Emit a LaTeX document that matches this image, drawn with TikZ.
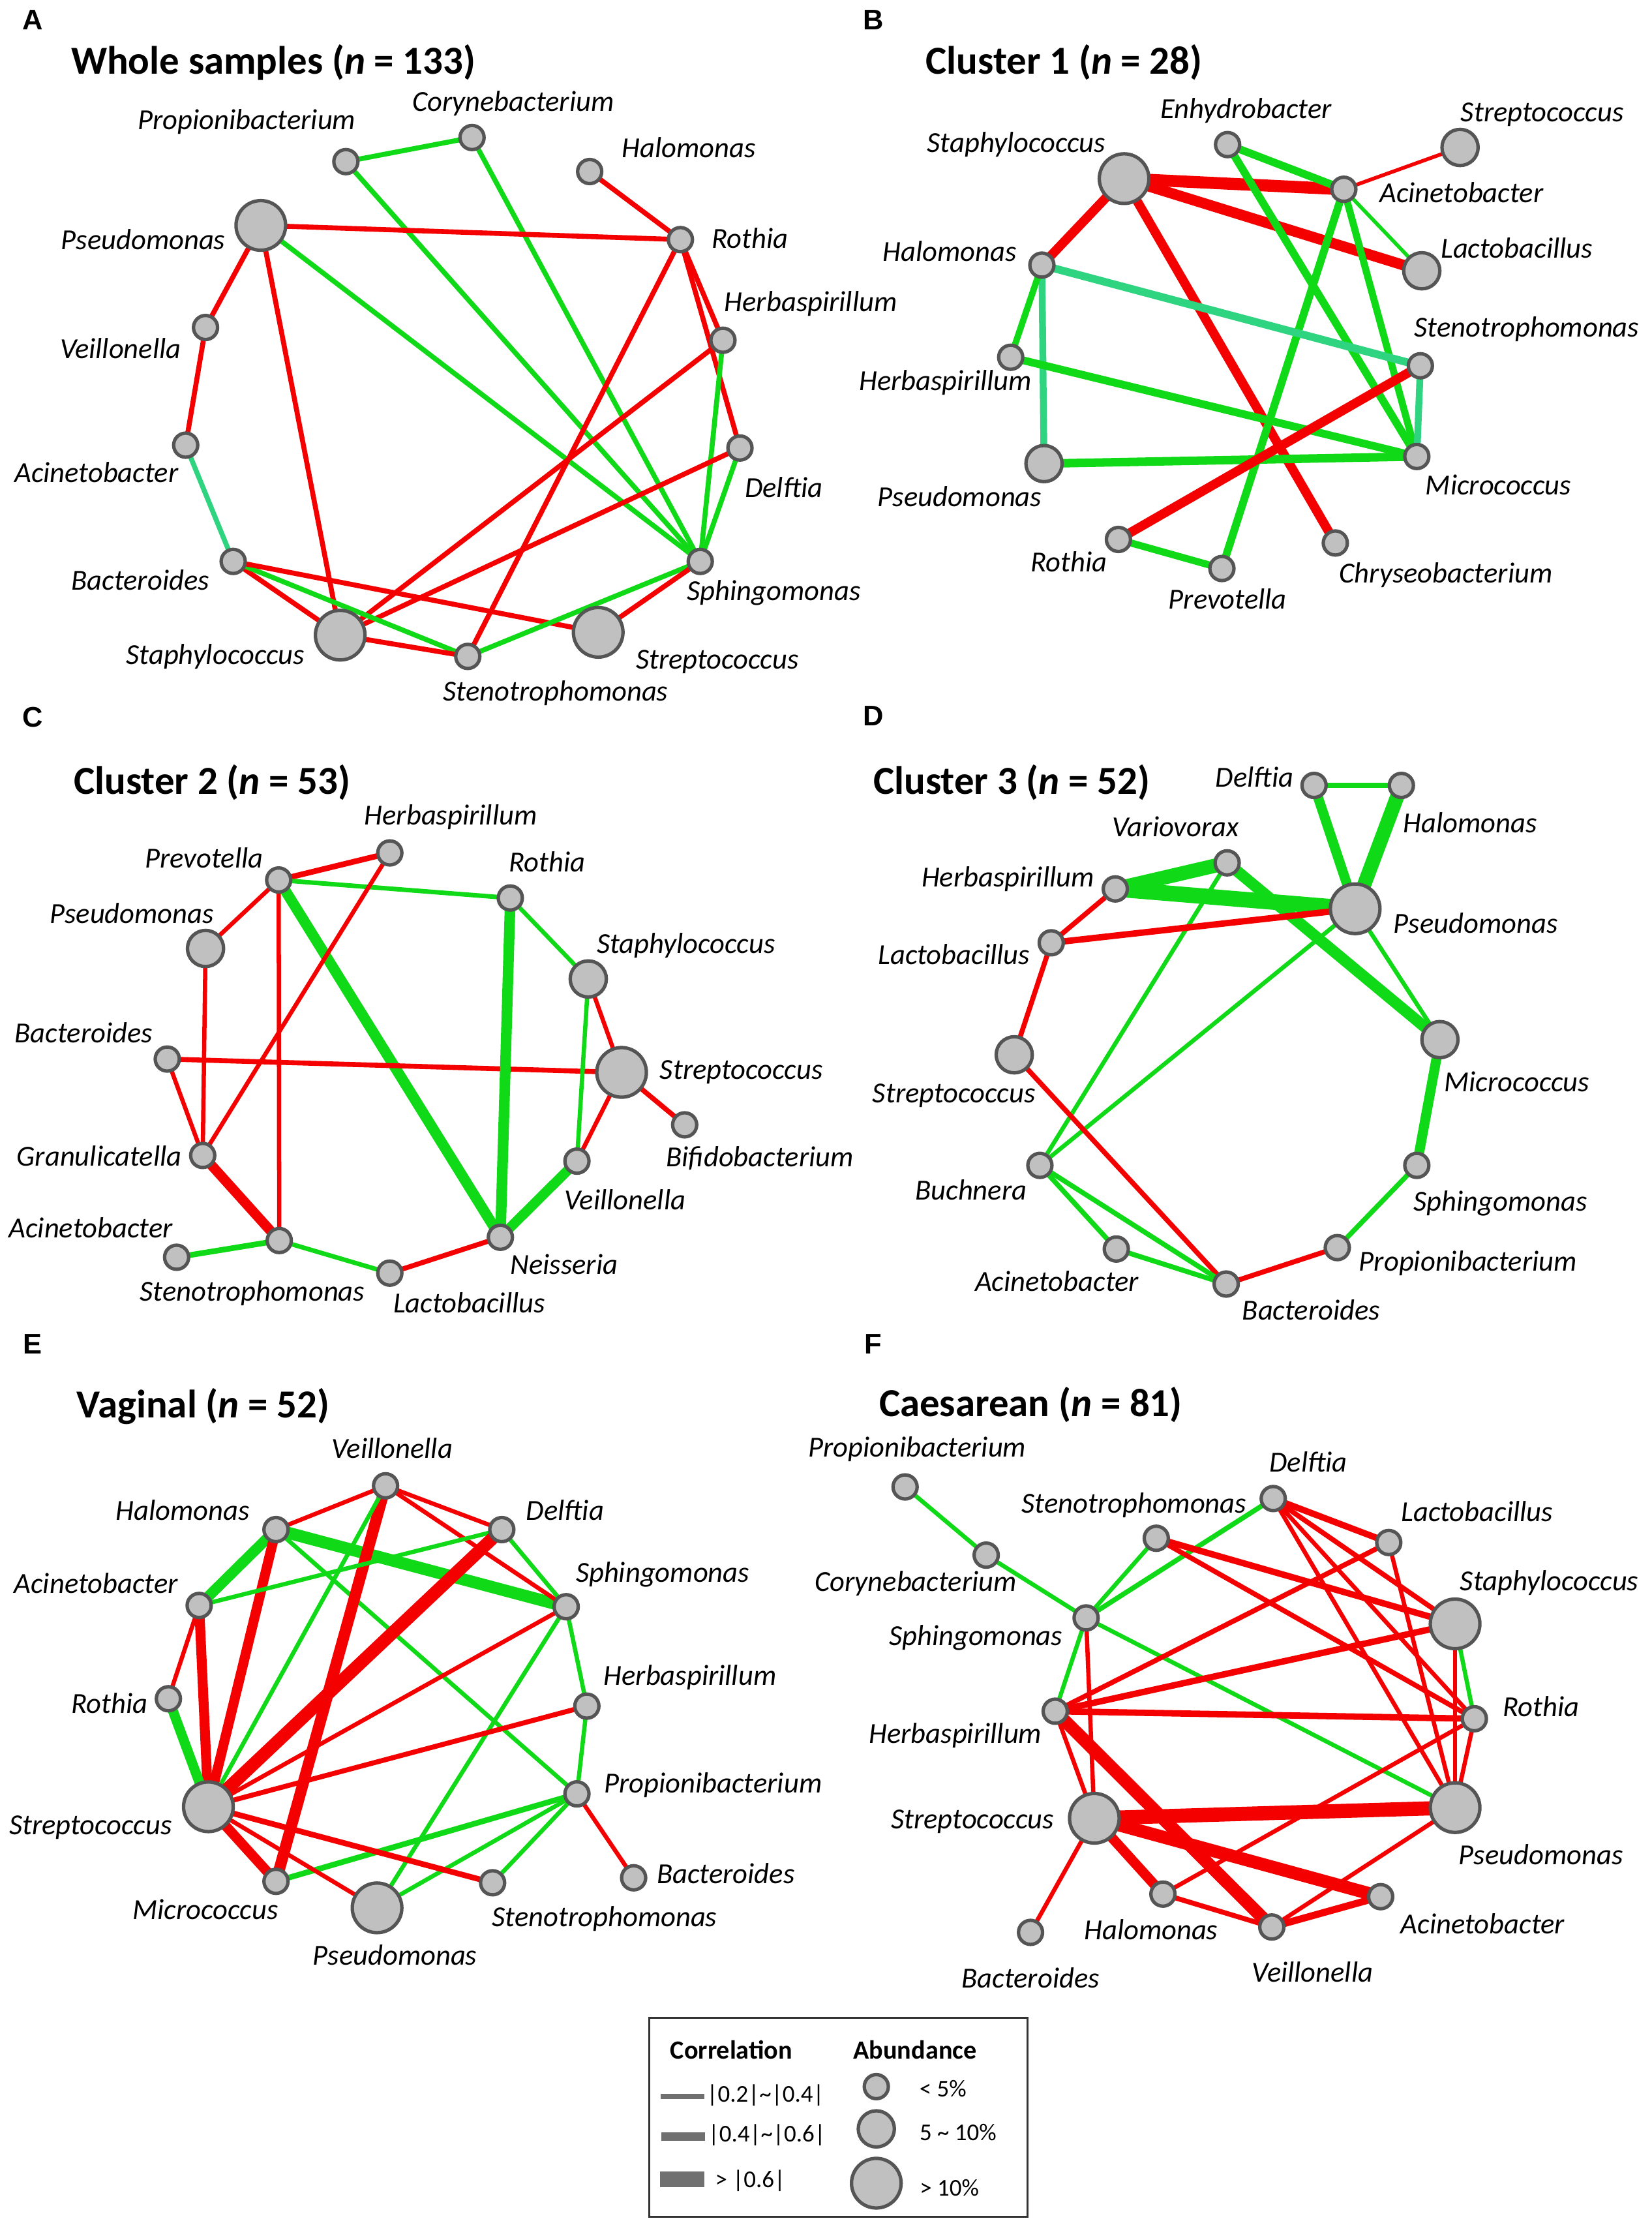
\documentclass[tikz,border=0pt]{standalone}
\usepackage{fontspec}
\setmainfont{Carlito}
\newfontfamily\letterfont{Liberation Sans}
\usetikzlibrary{backgrounds}
\definecolor{ered}{RGB}{245,0,0}
\definecolor{egrn}{RGB}{16,218,24}
\definecolor{eteal}{RGB}{46,212,128}
\definecolor{ngray}{RGB}{192,192,192}
\definecolor{nbord}{RGB}{85,85,85}
\definecolor{lbar}{RGB}{112,112,112}
\tikzset{
  sn/.style={circle, fill=ngray, draw=nbord, line width=2.4pt, inner sep=0pt, minimum size=17pt},
  mn/.style={sn, minimum size=25.5pt},
  ln/.style={sn, minimum size=35pt},
  lab/.style={font=\fontsize{20.5pt}{24pt}\selectfont\itshape, inner sep=0pt},
  ttl/.style={font=\fontsize{28pt}{32pt}\selectfont\bfseries, anchor=west, inner sep=0pt},
  plet/.style={font=\letterfont\bfseries\fontsize{20pt}{22pt}\selectfont, inner sep=0pt},
  leg/.style={font=\fontsize{17pt}{20pt}\selectfont, inner sep=0pt},
  legh/.style={font=\fontsize{18.5pt}{22pt}\selectfont\bfseries, inner sep=0pt},
  redE/.style={draw=ered, line width=#1pt},
  grnE/.style={draw=egrn, line width=#1pt},
  tealE/.style={draw=eteal, line width=#1pt},
}
\newcommand\taxon[7]{\node[#4] (#1) at (#2,#3) {}; \node[lab] (#1t) at (#5,#6) {#7};}
\newcommand\cx[3]{\draw[#1] (#2.center) -- (#3.center);}
\begin{document}
\begin{tikzpicture}[x=1pt,y=-1pt]
\path[use as bounding box] (0,0) rectangle (1165.4,1568);

% ---------------- Panel A ----------------
\node[plet] (letA) at (23,14) {A};
\node[ttl] (ttlA) at (50,44) {Whole samples (\textit{n} = 133)};
\taxon{aprop}{244}{114}{sn}{174}{86}{Propionibacterium}
\taxon{acory}{333}{97}{sn}{362}{73}{Corynebacterium}
\taxon{ahalo}{416}{121}{sn}{486}{104}{Halomonas}
\taxon{apseu}{184}{159}{ln}{101}{169}{Pseudomonas}
\taxon{aroth}{480}{169}{sn}{529}{168}{Rothia}
\taxon{aherb}{510}{240}{sn}{572}{214}{Herbaspirillum}
\taxon{aveil}{145}{231}{sn}{85}{246}{Veillonella}
\taxon{aacin}{131}{314}{sn}{68}{333}{Acinetobacter}
\taxon{adelf}{522}{316}{sn}{553}{344}{Delftia}
\taxon{abact}{164.5}{396}{sn}{99}{409}{Bacteroides}
\taxon{asphi}{494}{396}{sn}{546}{418}{Sphingomonas}
\taxon{astap}{240}{448}{ln}{152}{463}{Staphylococcus}
\taxon{asten}{330}{463}{sn}{392}{489}{Stenotrophomonas}
\taxon{astre}{422}{446}{ln}{506}{467}{Streptococcus}

% ---------------- Panel B ----------------
\node[plet] (letB) at (616,14) {B};
\node[ttl] (ttlB) at (653,44) {Cluster 1 (\textit{n} = 28)};
\taxon{benhy}{866}{102}{sn}{879}{78}{Enhydrobacter}
\taxon{bstre}{1030}{104}{mn}{1088}{81}{Streptococcus}
\taxon{bstap}{793}{126}{ln}{717}{102}{Staphylococcus}
\taxon{bacin}{948}{133.5}{sn}{1031}{136}{Acinetobacter}
\taxon{blact}{1003}{191}{mn}{1070}{175}{Lactobacillus}
\taxon{bhalo}{735}{187}{sn}{670}{177}{Halomonas}
\taxon{bsten}{1002}{258}{sn}{1077}{232}{Stenotrophomonas}
\taxon{bherb}{713}{252}{sn}{667}{270}{Herbaspirillum}
\taxon{bpseu}{736.5}{327}{mn}{677}{350}{Pseudomonas}
\taxon{bmicr}{999.5}{322}{sn}{1057}{342}{Micrococcus}
\taxon{broth}{789}{380.5}{sn}{754}{396}{Rothia}
\taxon{bchry}{942}{383}{sn}{1020}{405.5}{Chryseobacterium}
\taxon{bprev}{862}{401}{sn}{866}{422.5}{Prevotella}

% ---------------- Panel C ----------------
\node[plet] (letC) at (23,506) {C};
\node[ttl] (ttlC) at (52,552) {Cluster 2 (\textit{n} = 53)};
\taxon{cherb}{275}{601.6}{sn}{318}{576.5}{Herbaspirillum}
\taxon{cprev}{196.6}{620.7}{sn}{144}{605}{Prevotella}
\taxon{croth}{360}{633.4}{sn}{386}{608}{Rothia}
\taxon{cpseu}{145}{669}{mn}{93}{644}{Pseudomonas}
\taxon{cstap}{415}{690.5}{mn}{484}{667}{Staphylococcus}
\taxon{cbact}{118}{747}{sn}{59}{728.3}{Bacteroides}
\taxon{cstre}{438.5}{756.4}{ln}{523}{756}{Streptococcus}
\taxon{cbifi}{483}{793.4}{sn}{536}{817}{Bifidobacterium}
\taxon{cgran}{143}{815}{sn}{70}{815.5}{Granulicatella}
\taxon{cveil}{407}{819}{sn}{441}{846}{Veillonella}
\taxon{cacin}{124.6}{886.8}{sn}{64}{866}{Acinetobacter}
\taxon{csten}{197}{875}{sn}{178}{912}{Stenotrophomonas}
\taxon{cneis}{353}{872.7}{sn}{398}{891.6}{Neisseria}
\taxon{clact}{275}{898}{sn}{331}{919}{Lactobacillus}

% ---------------- Panel D ----------------
\node[plet] (letD) at (616,505) {D};
\node[ttl] (ttlD) at (616,552) {Cluster 3 (\textit{n} = 52)};
\taxon{ddelf}{927}{554}{sn}{885}{548}{Delftia}
\taxon{dhalo}{988.6}{554}{sn}{1037}{580.4}{Halomonas}
\taxon{dvari}{865.7}{608.6}{sn}{829.5}{583}{Variovorax}
\taxon{dherb}{786.8}{627}{sn}{711}{620}{Herbaspirillum}
\taxon{dpseu}{956}{641}{ln}{1041}{651}{Pseudomonas}
\taxon{dlact}{741.6}{665}{sn}{673}{673}{Lactobacillus}
\taxon{dstre}{715.5}{744}{mn}{673}{773}{Streptococcus}
\taxon{dmicr}{1015.8}{733.3}{mn}{1070}{763}{Micrococcus}
\taxon{dbuch}{733.6}{822}{sn}{685}{839.5}{Buchnera}
\taxon{dsphi}{999.5}{822}{sn}{1058.5}{849}{Sphingomonas}
\taxon{dacin}{787.5}{881}{sn}{745.6}{903.7}{Acinetobacter}
\taxon{dprop}{943.4}{880}{sn}{1035.6}{891}{Propionibacterium}
\taxon{dbact}{865}{905.7}{sn}{925}{924}{Bacteroides}

% ---------------- Panel E ----------------
\node[plet] (letE) at (23,948) {E};
\node[ttl] (ttlE) at (54,992) {Vaginal (\textit{n} = 52)};
\taxon{eveil}{272}{1048}{sn}{276.7}{1021.4}{Veillonella}
\taxon{ehalo}{194.7}{1078.9}{sn}{129}{1065.3}{Halomonas}
\taxon{edelf}{354}{1078.9}{sn}{398.6}{1065.3}{Delftia}
\taxon{eacin}{140.5}{1132.4}{sn}{67.7}{1116.6}{Acinetobacter}
\taxon{esphi}{399.4}{1133.3}{sn}{467.5}{1110.6}{Sphingomonas}
\taxon{eroth}{118.8}{1198.2}{sn}{77.4}{1201.3}{Rothia}
\taxon{eherb}{414}{1203.4}{sn}{486.8}{1183}{Herbaspirillum}
\taxon{eprop}{407}{1265.3}{sn}{503}{1259.3}{Propionibacterium}
\taxon{estre}{147}{1274.4}{ln}{63.9}{1288.9}{Streptococcus}
\taxon{ebact}{447}{1324.5}{sn}{512}{1321.5}{Bacteroides}
\taxon{emicr}{194.7}{1327}{sn}{145}{1347}{Micrococcus}
\taxon{esten}{347.5}{1328}{sn}{426.5}{1353.2}{Stenotrophomonas}
\taxon{epseu}{266}{1345.7}{ln}{278.6}{1379}{Pseudomonas}

% ---------------- Panel F ----------------
\node[plet] (letF) at (616,948) {F};
\node[ttl] (ttlF) at (620,991) {Caesarean (\textit{n} = 81)};
\taxon{fprop}{638.5}{1048.8}{sn}{647}{1022}{Propionibacterium}
\taxon{fdelf}{898.2}{1057}{sn}{923}{1031}{Delftia}
\taxon{fsten}{815.7}{1085}{sn}{800}{1061.6}{Stenotrophomonas}
\taxon{flact}{979.7}{1088}{sn}{1042}{1066.3}{Lactobacillus}
\taxon{fcory}{695.7}{1096.9}{sn}{646}{1117}{Corynebacterium}
\taxon{fstap}{1026.5}{1145.4}{ln}{1093}{1116.5}{Staphylococcus}
\taxon{fsphi}{766.2}{1141.2}{sn}{688.4}{1155.4}{Sphingomonas}
\taxon{froth}{1040.1}{1212.3}{sn}{1087}{1203.6}{Rothia}
\taxon{fherb}{744.4}{1207}{sn}{674}{1224}{Herbaspirillum}
\taxon{fstre}{772}{1282.5}{ln}{686}{1285}{Streptococcus}
\taxon{fpseu}{1026.5}{1275}{ln}{1087}{1308}{Pseudomonas}
\taxon{fhalo}{820.4}{1336}{sn}{812}{1361}{Halomonas}
\taxon{facin}{974}{1337.8}{sn}{1046}{1357}{Acinetobacter}
\taxon{fveil}{897.2}{1359.2}{sn}{926}{1391}{Veillonella}
\taxon{fbact}{727}{1363}{sn}{727}{1395}{Bacteroides}

% ---------------- Legend ----------------
\node[draw=black!80, line width=1.4pt, minimum width=267pt, minimum height=140.5pt, inner sep=0pt] (legbox) at (591.5,1493.5) {};
\node[legh] (legc) at (516,1446) {Correlation};
\node[legh] (lega) at (645.5,1446) {Abundance};
\node[fill=lbar, minimum width=31pt, minimum height=3.4pt, inner sep=0pt] (bar1) at (481.5,1478.7) {};
\node[fill=lbar, minimum width=31pt, minimum height=6.4pt, inner sep=0pt] (bar2) at (482,1507) {};
\node[fill=lbar, minimum width=31pt, minimum height=11pt, inner sep=0pt] (bar3) at (481.2,1537.3) {};
\node[leg] (bar1t) at (540,1478) {|0.2|\textasciitilde|0.4|};
\node[leg] (bar2t) at (541,1506) {|0.4|\textasciitilde|0.6|};
\node[leg] (bar3t) at (529.3,1538) {> |0.6|};
\node[sn] (cir1) at (618.2,1471.8) {};
\node[mn] (cir2) at (618.2,1501.6) {};
\node[ln] (cir3) at (618.2,1539.9) {};
\node[leg] (cir1t) at (665.2,1473.3) {< 5\%};
\node[leg] (cir2t) at (675.8,1504) {5 \textasciitilde{} 10\%};
\node[leg] (cir3t) at (669.8,1543) {> 10\%};

% ---------------- Edges (behind nodes) ----------------
\begin{pgfonlayer}{background}
% A
\cx{grnE=3.5}{aprop}{acory}
\cx{grnE=3.5}{aprop}{asphi}
\cx{grnE=3.5}{acory}{asphi}
\cx{redE=3.5}{ahalo}{aroth}
\cx{redE=3.5}{apseu}{aroth}
\cx{grnE=3.5}{apseu}{asphi}
\cx{redE=3.5}{apseu}{aveil}
\cx{redE=3.5}{apseu}{astap}
\cx{redE=3.5}{aroth}{asten}
\cx{redE=3.5}{aroth}{aherb}
\cx{redE=3.5}{aroth}{adelf}
\cx{redE=3.5}{aherb}{astap}
\cx{grnE=3.5}{aherb}{asphi}
\cx{grnE=3.5}{adelf}{asphi}
\cx{redE=3.5}{adelf}{astap}
\cx{redE=3.5}{aveil}{aacin}
\cx{tealE=3.5}{aacin}{abact}
\cx{redE=3.5}{abact}{astap}
\cx{grnE=3.5}{abact}{asten}
\cx{redE=3.5}{abact}{astre}
\cx{redE=3.5}{astap}{asten}
\cx{grnE=3.5}{asten}{asphi}
\cx{redE=3.5}{astre}{asphi}
% B
\cx{redE=2.6}{bstre}{bacin}
\cx{redE=8.5}{bstap}{bacin}
\cx{redE=7.5}{bstap}{blact}
\cx{redE=6.5}{bstap}{bhalo}
\cx{redE=6.5}{bstap}{bchry}
\cx{grnE=5.5}{benhy}{bacin}
\cx{grnE=5.5}{benhy}{bmicr}
\cx{grnE=2.6}{bacin}{blact}
\cx{grnE=5}{bacin}{bmicr}
\cx{grnE=5.5}{bacin}{bprev}
\cx{tealE=5.5}{bhalo}{bsten}
\cx{tealE=4.8}{bhalo}{bpseu}
\cx{grnE=4.5}{bhalo}{bherb}
\cx{grnE=5.5}{bherb}{bmicr}
\cx{grnE=6}{bpseu}{bmicr}
\cx{tealE=4.8}{bsten}{bmicr}
\cx{redE=6.5}{bsten}{broth}
\cx{grnE=5}{broth}{bprev}
% C
\cx{redE=4}{cprev}{cherb}
\cx{grnE=3.2}{cprev}{croth}
\cx{redE=3}{cprev}{cpseu}
\cx{redE=3}{cprev}{csten}
\cx{grnE=7.5}{cprev}{cneis}
\cx{redE=3}{cherb}{cgran}
\cx{redE=3}{cpseu}{cgran}
\cx{redE=3}{cbact}{cgran}
\cx{redE=3.5}{cbact}{cstre}
\cx{grnE=7.5}{croth}{cneis}
\cx{grnE=3}{croth}{cstap}
\cx{redE=3}{cstap}{cstre}
\cx{grnE=3}{cstap}{cveil}
\cx{redE=3}{cstre}{cveil}
\cx{redE=3.5}{cstre}{cbifi}
\cx{grnE=7}{cveil}{cneis}
\cx{redE=3.5}{cneis}{clact}
\cx{grnE=3.2}{clact}{csten}
\cx{grnE=4}{csten}{cacin}
\cx{redE=7}{cgran}{csten}
% D
\cx{grnE=4}{ddelf}{dhalo}
\cx{grnE=7}{ddelf}{dpseu}
\cx{grnE=10}{dhalo}{dpseu}
\cx{grnE=10}{dherb}{dvari}
\cx{grnE=11}{dherb}{dpseu}
\cx{grnE=8}{dvari}{dmicr}
\cx{grnE=3}{dvari}{dbuch}
\cx{grnE=3}{dpseu}{dbuch}
\cx{grnE=3}{dpseu}{dmicr}
\cx{redE=3.5}{dherb}{dlact}
\cx{redE=4.5}{dlact}{dpseu}
\cx{redE=3.5}{dlact}{dstre}
\cx{redE=3.5}{dstre}{dbact}
\cx{grnE=7}{dmicr}{dsphi}
\cx{grnE=3.5}{dsphi}{dprop}
\cx{redE=3.5}{dprop}{dbact}
\cx{grnE=3.5}{dbuch}{dacin}
\cx{grnE=3.5}{dbuch}{dbact}
\cx{grnE=3.5}{dacin}{dbact}
% E
\cx{redE=3}{ehalo}{eveil}
\cx{grnE=7.5}{ehalo}{eacin}
\cx{grnE=8.5}{ehalo}{esphi}
\cx{redE=7}{ehalo}{estre}
\cx{grnE=3}{ehalo}{eprop}
\cx{redE=3}{eveil}{edelf}
\cx{redE=3}{eveil}{esphi}
\cx{redE=8}{eveil}{emicr}
\cx{grnE=3}{eveil}{estre}
\cx{grnE=3}{edelf}{eacin}
\cx{grnE=3}{edelf}{esphi}
\cx{redE=9}{edelf}{estre}
\cx{redE=3}{eacin}{eroth}
\cx{redE=7}{eacin}{estre}
\cx{grnE=7}{eroth}{estre}
\cx{redE=3}{esphi}{estre}
\cx{grnE=3}{esphi}{eherb}
\cx{grnE=3}{esphi}{epseu}
\cx{redE=3.5}{eherb}{estre}
\cx{grnE=3}{eherb}{eprop}
\cx{redE=3}{eprop}{ebact}
\cx{grnE=4}{eprop}{emicr}
\cx{grnE=3}{eprop}{epseu}
\cx{grnE=3}{eprop}{esten}
\cx{redE=7}{estre}{emicr}
\cx{redE=3}{estre}{epseu}
\cx{redE=4}{estre}{esten}
% F
\cx{grnE=3}{fprop}{fcory}
\cx{grnE=3}{fcory}{fsphi}
\cx{grnE=3}{fsphi}{fsten}
\cx{grnE=3.5}{fsphi}{fdelf}
\cx{grnE=3}{fsphi}{fherb}
\cx{grnE=3}{fsphi}{fpseu}
\cx{redE=3}{fsphi}{fstre}
\cx{redE=4.5}{fsten}{fstap}
\cx{redE=3.5}{fsten}{froth}
\cx{redE=4.5}{fdelf}{flact}
\cx{redE=3.5}{fdelf}{fstap}
\cx{redE=3}{fdelf}{froth}
\cx{redE=3}{fdelf}{fpseu}
\cx{redE=3.5}{flact}{fherb}
\cx{redE=3}{flact}{fpseu}
\cx{redE=4.5}{fstap}{fherb}
\cx{grnE=3}{fstap}{froth}
\cx{redE=3}{fstap}{fpseu}
\cx{redE=4.5}{fherb}{froth}
\cx{redE=3}{froth}{fpseu}
\cx{redE=3}{froth}{fhalo}
\cx{redE=3}{fherb}{fstre}
\cx{redE=9}{fherb}{fveil}
\cx{redE=10}{fstre}{fpseu}
\cx{redE=9}{fstre}{facin}
\cx{redE=7}{fstre}{fhalo}
\cx{redE=3}{fstre}{fbact}
\cx{redE=3.5}{fhalo}{fveil}
\cx{redE=5}{fveil}{facin}
\cx{redE=3}{fveil}{fpseu}
\end{pgfonlayer}
\end{tikzpicture}
\end{document}
